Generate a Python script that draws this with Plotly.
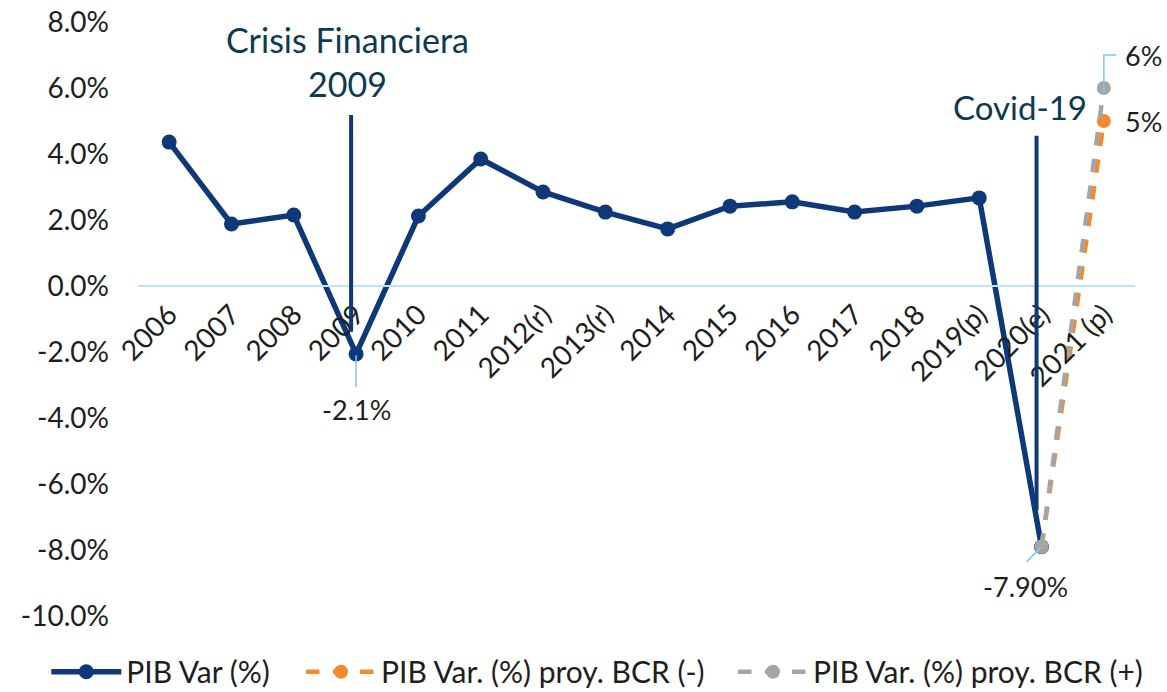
import plotly.graph_objects as go

years = ["2006", "2007", "2008", "2009", "2010", "2011", "2012(r)", "2013(r)",
         "2014", "2015", "2016", "2017", "2018", "2019(p)", "2020(e)", "2021 (p)"]
pib_var = [4.36, 1.88, 2.15, -2.06, 2.12, 3.85, 2.85, 2.24, 1.73, 2.42, 2.55,
           2.24, 2.42, 2.67, -7.9, None]
proy_minus = [None] * 14 + [-7.9, 5.0]
proy_plus = [None] * 14 + [-7.9, 6.0]
y_ticks = [8, 6, 4, 2, 0, -2, -4, -6, -8, -10]
y_tick_text = [f"{v:.1f}%" for v in y_ticks]

NAVY = "#0E3878"
ORANGE = "#F58A2C"
GRAY = "#A5A5A5"
LEADER = "#7FC8F0"
FONT = "Lato"
TXT = "#1e1e1e"

fig = go.Figure()
fig.add_trace(go.Scatter(x=years, y=pib_var, mode="lines+markers", name="PIB Var (%)",
                         line=dict(color=NAVY, width=5.5), marker=dict(size=15, color=NAVY),
                         legend="legend"))
fig.add_trace(go.Scatter(x=years, y=proy_minus, mode="lines+markers",
                         name="PIB Var. (%) proy. BCR (-)",
                         line=dict(color=ORANGE, width=4.5, dash="dash"),
                         marker=dict(size=14, color=ORANGE), legend="legend2"))
fig.add_trace(go.Scatter(x=years, y=proy_plus, mode="lines+markers",
                         name="PIB Var. (%) proy. BCR (+)",
                         line=dict(color=GRAY, width=4.5, dash="dash"),
                         marker=dict(size=14, color=GRAY), legend="legend3"))

# Event lines
fig.add_shape(type="line", xref="x", yref="y", x0=3 - 0.08, x1=3 - 0.08, y0=5.18, y1=-1.39,
              line=dict(color=NAVY, width=4))
fig.add_shape(type="line", xref="x", yref="y", x0=14 - 0.08, x1=14 - 0.08, y0=4.55, y1=-6.79,
              line=dict(color=NAVY, width=4))

# Leader lines
fig.add_shape(type="line", xref="x", yref="y", x0=3, x1=3, y0=-2.1, y1=-3.07,
              line=dict(color=LEADER, width=1.5))
fig.add_shape(type="line", xref="x", yref="y", x0=14, x1=14 - 0.24, y0=-7.9, y1=-8.36,
              line=dict(color=LEADER, width=1.5))
fig.add_shape(type="path", xref="x", yref="y",
              path="M 15,5.85 L 15,7.0 L 15.2,7.0",
              line=dict(color=LEADER, width=1.5))

annotations = [
    dict(x=3 - 0.13, y=6.8, text="Crisis Financiera<br>2009", showarrow=False,
         font=dict(family=FONT, size=34, color="#0D3A50"), yanchor="middle"),
    dict(x=14 - 0.35, y=5.42, text="Covid-19", showarrow=False,
         font=dict(family=FONT, size=33, color="#0D3A50")),
    dict(x=3, y=-3.75, text="-2.1%", showarrow=False,
         font=dict(family=FONT, size=27, color=TXT)),
    dict(x=14 - 0.25, y=-9.1, text="-7.90%", showarrow=False,
         font=dict(family=FONT, size=27, color=TXT)),
    dict(x=15.3, y=7.0, text="6%", showarrow=False, xanchor="left",
         font=dict(family=FONT, size=27, color=TXT)),
    dict(x=15.3, y=4.98, text="5%", showarrow=False, xanchor="left",
         font=dict(family=FONT, size=27, color=TXT)),
]
for a in annotations:
    a.update(xref="x", yref="y")

y_min, y_max = -10, 8
zero_pos = (0 - y_min) / (y_max - y_min)

legend_common = dict(orientation="h", xanchor="left", y=-0.05, yanchor="top",
                     font=dict(family=FONT, size=30, color=TXT), itemwidth=70,
                     bgcolor="rgba(0,0,0,0)")

fig.update_layout(
    width=1167, height=692,
    margin=dict(l=138, r=32, t=22, b=76, autoexpand=False),
    plot_bgcolor="white", paper_bgcolor="white",
    font=dict(family=FONT, size=27, color=TXT),
    showlegend=True,
    legend=dict(x=-0.092, **legend_common),
    legend2=dict(x=0.1635, **legend_common),
    legend3=dict(x=0.5968, **legend_common),
    annotations=annotations,
    xaxis=dict(type="category", range=[-0.5, 15.5], tickangle=-45,
               anchor="free", position=zero_pos, showline=True, automargin=False,
               linecolor="#BDE3F7", linewidth=2, ticks="", showgrid=False,
               zeroline=False, tickfont=dict(family=FONT, size=28, color=TXT)),
    yaxis=dict(range=[y_min, y_max], tickvals=y_ticks, ticktext=y_tick_text,
               showgrid=False, zeroline=False, showline=False, ticks="",
               ticklabelstandoff=28, automargin=False, ticklabeloverflow="allow",
               tickfont=dict(family=FONT, size=28, color=TXT)),
)

fig.write_html("out.html", config={"displayModeBar": False},
               post_script="document.body.style.margin='0';document.body.style.overflow='hidden';")
